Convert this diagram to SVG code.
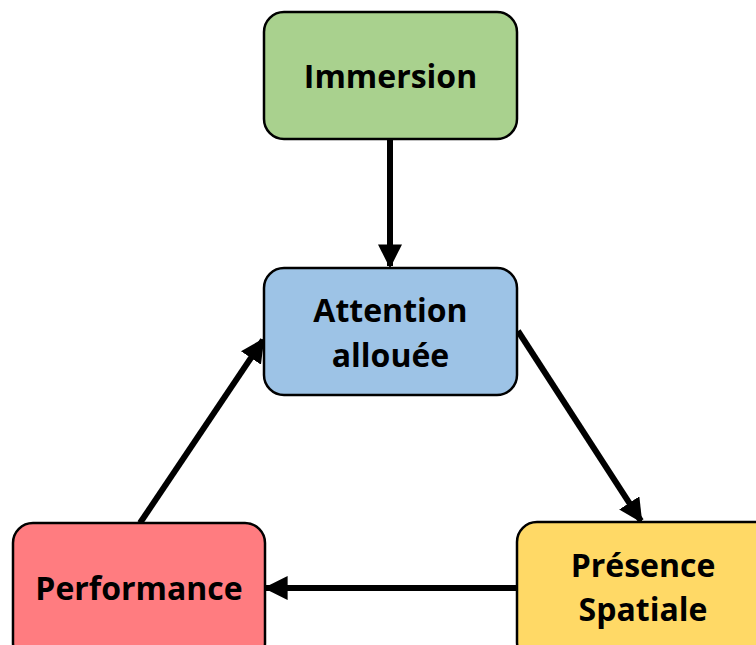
<svg xmlns="http://www.w3.org/2000/svg" width="756" height="645" viewBox="0 0 756 645">
<style>
.box{stroke:#000;stroke-width:2.5}
.lbl{font-family:"Open Sans","Noto Sans",sans-serif;font-weight:bold;font-size:32px;fill:#000;text-anchor:middle}
.conn{stroke:#000;stroke-width:6;fill:none;marker-end:url(#ah)}
</style>
<defs>
<marker id="ah" viewBox="0 0 10 10" refX="9" refY="5" markerWidth="4" markerHeight="4" markerUnits="strokeWidth" orient="auto">
<path d="M0,0 L10,5 L0,10 Z" fill="#000"/>
</marker>
</defs>
<rect width="756" height="645" fill="#fff"/>
<g id="connectors">
<line class="conn" x1="390" y1="140" x2="390" y2="266"/>
<line class="conn" x1="518" y1="331" x2="641" y2="521"/>
<line class="conn" x1="517" y1="588" x2="266" y2="588"/>
<line class="conn" x1="140" y1="523" x2="263" y2="340"/>
</g>
<g id="immersion">
<rect class="box" x="264" y="12" width="253" height="127" rx="20" fill="#A9D18E"/>
<text class="lbl" x="390.5" y="88">Immersion</text>
</g>
<g id="attention">
<rect class="box" x="264" y="268" width="253" height="127" rx="20" fill="#9DC3E6"/>
<text class="lbl" x="390.5" y="322">Attention</text>
<text class="lbl" x="390.5" y="367">allouée</text>
</g>
<g id="performance">
<rect class="box" x="13" y="523" width="252" height="140" rx="20" fill="#FF7C80"/>
<text class="lbl" x="139" y="600">Performance</text>
</g>
<g id="presence">
<rect class="box" x="517" y="522" width="260" height="140" rx="20" fill="#FFD966"/>
<text class="lbl" x="643" y="577">Présence</text>
<text class="lbl" x="643" y="621">Spatiale</text>
</g>
</svg>
